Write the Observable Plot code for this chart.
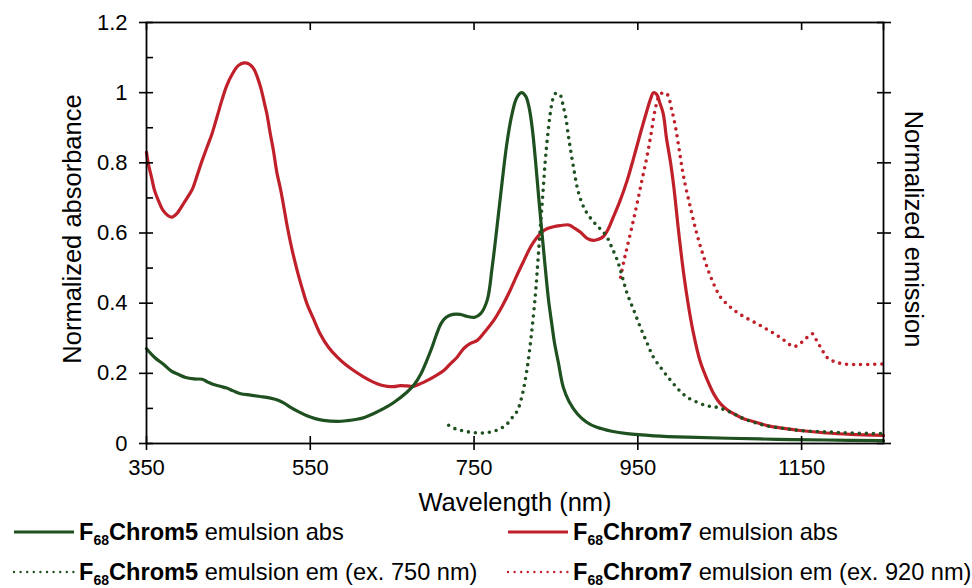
<!DOCTYPE html>
<html><head><meta charset="utf-8">
<script src="https://cdn.jsdelivr.net/npm/d3@7"></script>
<script src="https://cdn.jsdelivr.net/npm/@observablehq/plot@0.6"></script>
<style>
body{margin:0;background:#fff;font-family:"Liberation Sans",Arial,sans-serif;}
#wrap{position:relative;width:972px;height:588px;overflow:hidden;background:#fff}
.sw{position:absolute;}
.lt{position:absolute;font-size:23.6px;line-height:23px;color:#000;white-space:nowrap}
.lt sub{font-size:14px;vertical-align:-5px;line-height:0}
</style></head>
<body><div id="wrap"></div>
<script>
const colGreen = "#1f5020", colRed = "#c0202a";
const xTicks = [350, 550, 750, 950, 1150];
const yTicks = [0, 0.2, 0.4, 0.6, 0.8, 1, 1.2];
const yMinor = [0.1, 0.3, 0.5, 0.7, 0.9, 1.1];

// F68Chrom5 emulsion abs
const wl5abs = [350,360,371,380,388,398,408,418,425,432,440,448,456,465,477,489,500,510,518,526,536,546,556,566,583,595,607,617,627,640,652,668,677,685,692,698,704,710,716,724,733,742,751,758,766,772,778,784,790,796,802,808,813,817,821,825,829,833,837,841,845,848,853,859,866,876,888,900,918,937,970,1010,1060,1120,1180,1250];
const ab5 = [0.27,0.245,0.225,0.207,0.198,0.188,0.184,0.183,0.175,0.168,0.163,0.158,0.15,0.142,0.138,0.134,0.13,0.124,0.115,0.103,0.09,0.079,0.071,0.066,0.063,0.065,0.069,0.075,0.085,0.1,0.117,0.146,0.168,0.198,0.235,0.27,0.31,0.343,0.36,0.368,0.368,0.362,0.36,0.37,0.408,0.5,0.617,0.74,0.854,0.935,0.985,1.0,0.99,0.96,0.9,0.807,0.7,0.598,0.5,0.408,0.34,0.29,0.23,0.16,0.12,0.085,0.06,0.046,0.035,0.028,0.022,0.018,0.015,0.012,0.01,0.008];

// F68Chrom7 emulsion abs
const wl7abs = [350,352,356,360,365,370,376,381,387,395,401,406,412,418,424,430,436,442,448,455,462,469,475,481,486,490,494,497,501,505,509,514,518,522,528,534,540,546,554,562,572,583,593,603,615,627,636,644,652,660,668,676,684,693,703,713,721,729,737,745,754,763,774,784,794,802,811,819,827,833,839,847,855,866,873,880,888,896,902,908,914,920,928,937,945,953,960,966,969,973,977,981,985,990,994,1000,1006,1012,1018,1026,1035,1043,1051,1060,1067,1080,1095,1108,1128,1148,1180,1210,1250];
const ab7 = [0.83,0.8,0.76,0.72,0.69,0.665,0.65,0.645,0.655,0.683,0.705,0.725,0.765,0.807,0.845,0.883,0.93,0.978,1.02,1.054,1.077,1.085,1.082,1.068,1.04,1.01,0.97,0.94,0.885,0.835,0.775,0.721,0.67,0.617,0.55,0.493,0.443,0.398,0.355,0.313,0.275,0.246,0.225,0.208,0.19,0.175,0.167,0.163,0.162,0.165,0.164,0.163,0.17,0.18,0.193,0.208,0.227,0.245,0.27,0.285,0.294,0.318,0.351,0.39,0.436,0.478,0.522,0.56,0.588,0.603,0.612,0.618,0.621,0.623,0.613,0.602,0.585,0.579,0.582,0.59,0.612,0.645,0.69,0.75,0.815,0.883,0.94,0.985,1.0,0.995,0.97,0.94,0.87,0.8,0.73,0.6,0.484,0.39,0.313,0.235,0.18,0.14,0.113,0.095,0.085,0.07,0.06,0.051,0.043,0.037,0.03,0.026,0.023];

// F68Chrom5 emulsion em (ex. 750 nm)
const wl5em = [719,727,737,746,756,765,774,782,790,797,803,809,815,820,825,828,831,834,837,840,843,846,849,853,856,859,862,865,868,872,876,881,886,893,900,906,912,918,925,931,937,945,953,961,969,980,990,1000,1010,1022,1035,1045,1055,1067,1080,1095,1108,1128,1148,1180,1210,1250];
const em5 = [0.052,0.042,0.036,0.032,0.03,0.031,0.035,0.042,0.055,0.075,0.094,0.14,0.217,0.31,0.427,0.52,0.617,0.71,0.807,0.88,0.94,0.98,0.997,0.998,0.99,0.96,0.93,0.88,0.835,0.78,0.73,0.69,0.664,0.64,0.621,0.607,0.59,0.56,0.522,0.475,0.427,0.38,0.332,0.288,0.246,0.21,0.18,0.153,0.132,0.118,0.107,0.104,0.097,0.085,0.07,0.058,0.05,0.043,0.037,0.033,0.03,0.028];

// F68Chrom7 emulsion em (ex. 920 nm)
const wl7em = [929,933,937,943,949,955,961,966,971,976,981,986,991,996,1001,1006,1014,1022,1030,1039,1051,1061,1071,1083,1096,1108,1120,1130,1140,1147,1153,1163,1168,1173,1178,1183,1192,1201,1220,1250];
const em7 = [0.474,0.52,0.56,0.62,0.683,0.75,0.816,0.88,0.95,0.99,1.0,0.995,0.955,0.902,0.83,0.759,0.675,0.598,0.535,0.475,0.417,0.393,0.374,0.357,0.341,0.325,0.308,0.292,0.276,0.283,0.294,0.313,0.295,0.275,0.255,0.241,0.232,0.227,0.225,0.227];

const toRows = (xs, ys) => xs.map((x, i) => ({x, y: ys[i]}));
const fmtY = d => String(+d.toFixed(1));

const chart = Plot.plot({
  width: 972, height: 515,
  marginLeft: 146, marginRight: 89, marginTop: 22, marginBottom: 72,
  style: {fontFamily: "'Liberation Sans', Arial, sans-serif", fontSize: "22px", color: "#000", background: "transparent", overflow: "visible"},
  x: {domain: [350, 1250]},
  y: {domain: [0, 1.2]},
  marks: [
    Plot.line(toRows(wl7em, em7), {x: "x", y: "y", stroke: colRed, strokeWidth: 3.6, strokeDasharray: "0 7", strokeLinecap: "round", curve: "catmull-rom"}),
    Plot.line(toRows(wl7abs, ab7), {x: "x", y: "y", stroke: colRed, strokeWidth: 3.2, curve: "catmull-rom"}),
    Plot.line(toRows(wl5abs, ab5), {x: "x", y: "y", stroke: colGreen, strokeWidth: 3.2, curve: "catmull-rom"}),
    Plot.line(toRows(wl5em, em5), {x: "x", y: "y", stroke: colGreen, strokeWidth: 3.6, strokeDasharray: "0 7", strokeLinecap: "round", curve: "catmull-rom"}),
    Plot.frame({stroke: "#000", strokeWidth: 1.8}),
    Plot.axisX({ticks: xTicks, tickSize: 7, tickPadding: 9, tickFormat: d => String(d), label: null, fontSize: 22, strokeWidth: 1.6}),
    Plot.axisX({ticks: xTicks, tickSize: -7, tickFormat: () => "", label: null, strokeWidth: 1.6}),
    Plot.axisX({anchor: "top", ticks: [...xTicks, 1250], tickSize: -7, tickFormat: () => "", label: null, strokeWidth: 1.6}),
    Plot.axisY({ticks: yTicks, tickSize: 7, tickPadding: 12, tickFormat: fmtY, label: null, fontSize: 22, strokeWidth: 1.6}),
    Plot.axisY({ticks: yTicks, tickSize: -7, tickFormat: () => "", label: null, strokeWidth: 1.6}),
    Plot.axisY({ticks: yMinor, tickSize: -7, tickFormat: () => "", label: null, strokeWidth: 1.6}),
    Plot.axisY({anchor: "right", ticks: yTicks, tickSize: 7, tickFormat: () => "", label: null, strokeWidth: 1.6}),
    Plot.axisY({anchor: "right", ticks: yTicks, tickSize: -7, tickFormat: () => "", label: null, strokeWidth: 1.6}),
    Plot.text(["Wavelength (nm)"], {frameAnchor: "bottom", dy: 59, fontSize: 25.5, fill: "#000", textAnchor: "middle", lineAnchor: "middle"}),
    Plot.text(["Normalized absorbance"], {frameAnchor: "left", dx: -74, dy: -4, rotate: -90, fontSize: 25.5, fill: "#000", textAnchor: "middle"}),
    Plot.text(["Normalized emission"], {frameAnchor: "right", dx: 30, dy: -4, rotate: 90, fontSize: 25.5, fill: "#000", textAnchor: "middle"})
  ]
});

const wrap = document.getElementById("wrap");
chart.style.position = "absolute";
chart.style.left = "0px";
chart.style.top = "0px";
wrap.appendChild(chart);

// Legend
const legendItems = [
  {name: "Chrom5", rest: " emulsion abs", color: colGreen, dotted: false, left: 12, row: 0},
  {name: "Chrom7", rest: " emulsion abs", color: colRed, dotted: false, left: 506, row: 0},
  {name: "Chrom5", rest: " emulsion em (ex. 750 nm)", color: colGreen, dotted: true, left: 12, row: 1},
  {name: "Chrom7", rest: " emulsion em (ex. 920 nm)", color: colRed, dotted: true, left: 506, row: 1}
];
const rowBase = [540, 580];
for (const it of legendItems) {
  const ns = "http://www.w3.org/2000/svg";
  const svg = document.createElementNS(ns, "svg");
  svg.setAttribute("class", "sw");
  svg.setAttribute("width", 66);
  svg.setAttribute("height", 10);
  svg.style.left = it.left + "px";
  svg.style.top = (rowBase[it.row] - 13) + "px";
  const ln = document.createElementNS(ns, "line");
  ln.setAttribute("x1", 2); ln.setAttribute("x2", 62);
  ln.setAttribute("y1", 5); ln.setAttribute("y2", 5);
  ln.setAttribute("stroke", it.color);
  ln.setAttribute("stroke-width", it.dotted ? 2.4 : 3.2);
  if (it.dotted) { ln.setAttribute("stroke-dasharray", "0 6.6"); ln.setAttribute("stroke-linecap", "round"); }
  svg.appendChild(ln);
  wrap.appendChild(svg);
  const t = document.createElement("div");
  t.className = "lt";
  t.style.left = (it.left + 67) + "px";
  t.style.top = (rowBase[it.row] - 19.5) + "px";
  t.innerHTML = `<b>F<sub>68</sub>${it.name}</b>${it.rest}`;
  wrap.appendChild(t);
}
</script>
</body></html>
